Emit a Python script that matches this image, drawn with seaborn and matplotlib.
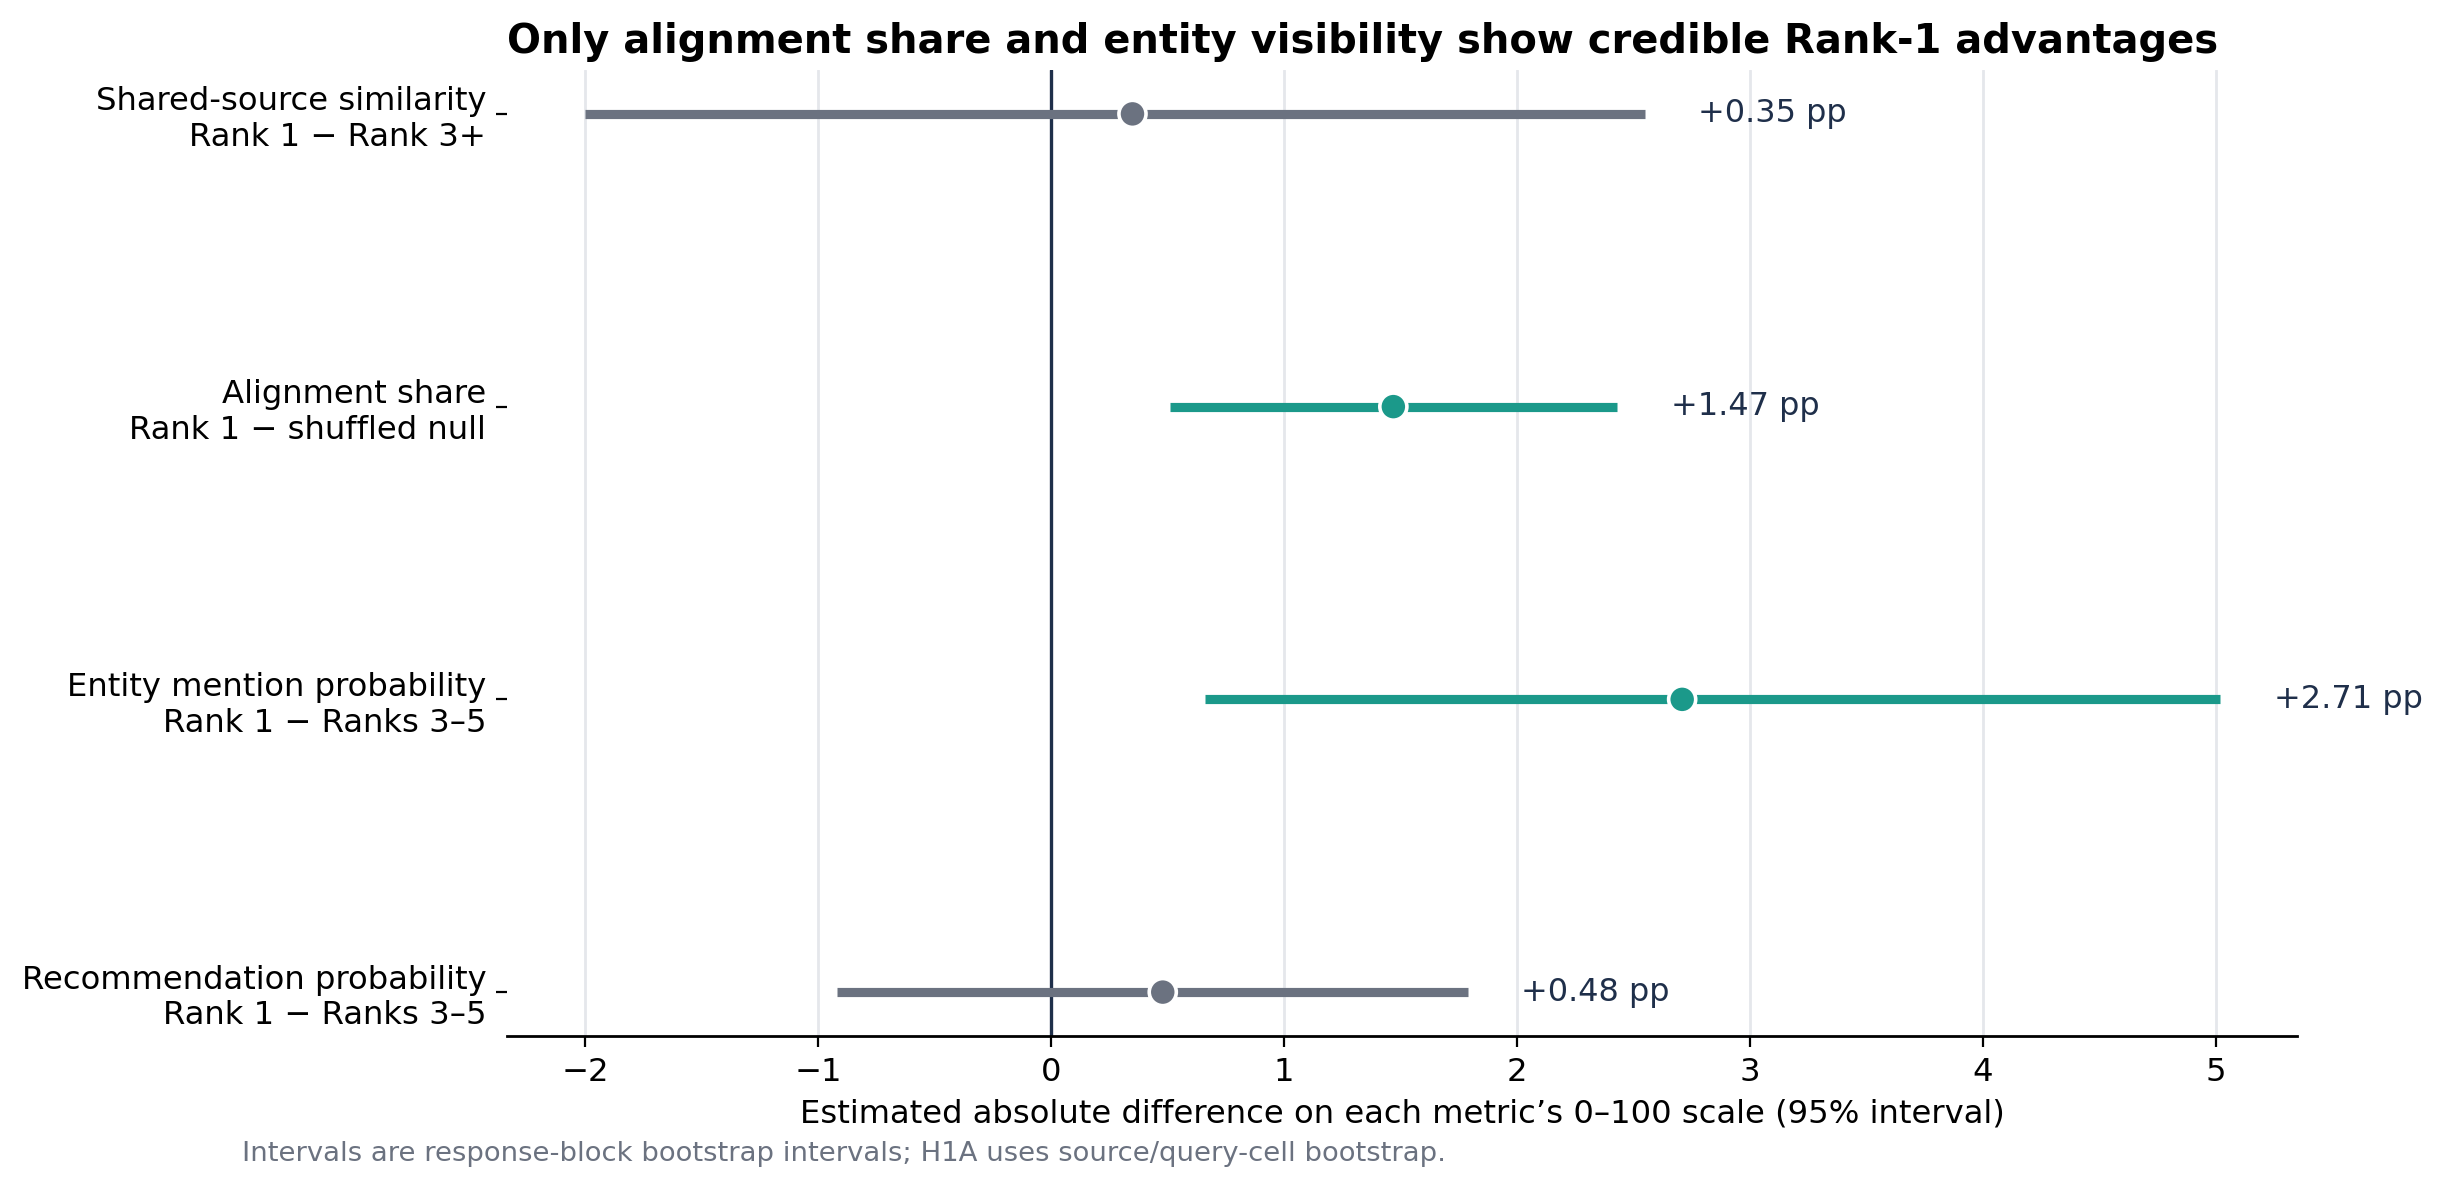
import pandas as pd
import matplotlib.pyplot as plt
import seaborn as sns
import numpy as np

# contrast labels (top to bottom) and the estimates
metrics = [
    "Shared-source similarity\nRank 1 \u2212 Rank 3+",
    "Alignment share\nRank 1 \u2212 shuffled null",
    "Entity mention probability\nRank 1 \u2212 Ranks 3\u20135",
    "Recommendation probability\nRank 1 \u2212 Ranks 3\u20135",
]
estimate = [0.35, 1.47, 2.71, 0.48]
ci_low = [-2.00, 0.51, 0.66, -0.92]
ci_high = [2.55, 2.43, 5.02, 1.79]
credible = [False, True, True, False]

GRAY = "#6b7280"
TEAL = "#1b998a"
NAVY = "#1f2f4a"

df = pd.DataFrame({"metric": metrics, "est": estimate, "lo": ci_low,
                   "hi": ci_high, "credible": credible})
df["pos"] = np.arange(len(df))
df["color"] = np.where(df["credible"], TEAL, GRAY)

sns.set_style("white")
plt.rcParams['font.family'] = ['DejaVu Sans']
plt.rcParams['text.color'] = 'black'
plt.rcParams['axes.labelcolor'] = 'black'
plt.rcParams['xtick.color'] = 'black'
plt.rcParams['ytick.color'] = 'black'

fig, ax = plt.subplots(figsize=(12.225, 5.95), dpi=200)
fig.subplots_adjust(left=0.2074, right=0.9395, top=0.9412, bottom=0.1294)

ax.grid(axis="x", color="#e5e7eb", linewidth=1.0)
ax.set_axisbelow(True)
ax.axvline(0, color=NAVY, linewidth=1.2, zorder=2)

ax.hlines(df["pos"], df["lo"], df["hi"], colors=df["color"], linewidth=3.3, zorder=3)
sns.scatterplot(data=df, x="est", y="pos", hue="credible",
                palette={True: TEAL, False: GRAY}, s=95, edgecolor="white",
                linewidth=1.3, zorder=4, legend=False, ax=ax)

for _, r in df.iterrows():
    ax.text(r["hi"] + 0.23, r["pos"], f"+{r['est']:.2f} pp", ha="left", va="center",
            fontsize=11.5, color=NAVY)

ax.set_xlim(-2.335, 5.35)
ax.set_ylim(3.15, -0.15)
ax.set_yticks(df["pos"])
ax.set_yticklabels(df["metric"], fontsize=11.6)
ax.set_xticks(range(-2, 6))
ax.set_xticklabels([f"{t}".replace("-", "\u2212") for t in range(-2, 6)])
ax.tick_params(axis="x", labelsize=11.6, length=4, bottom=True)
ax.tick_params(axis="y", length=4, left=True)

for s in ["top", "right", "left"]:
    ax.spines[s].set_visible(False)
ax.spines["bottom"].set_color("black")
ax.spines["bottom"].set_linewidth(1.0)

ax.set_xlabel("Estimated absolute difference on each metric\u2019s 0\u2013100 scale (95% interval)",
              fontsize=11.6)
ax.set_ylabel("")
ax.set_title("Only alignment share and entity visibility show credible Rank-1 advantages",
             loc="left", fontsize=14.4, fontweight="bold", color="black")

fig.text(0.099, 0.030, "Intervals are response-block bootstrap intervals; H1A uses source/query-cell bootstrap.",
         fontsize=9.9, color=GRAY, va="center", ha="left")

plt.savefig("out.png", dpi=200)
